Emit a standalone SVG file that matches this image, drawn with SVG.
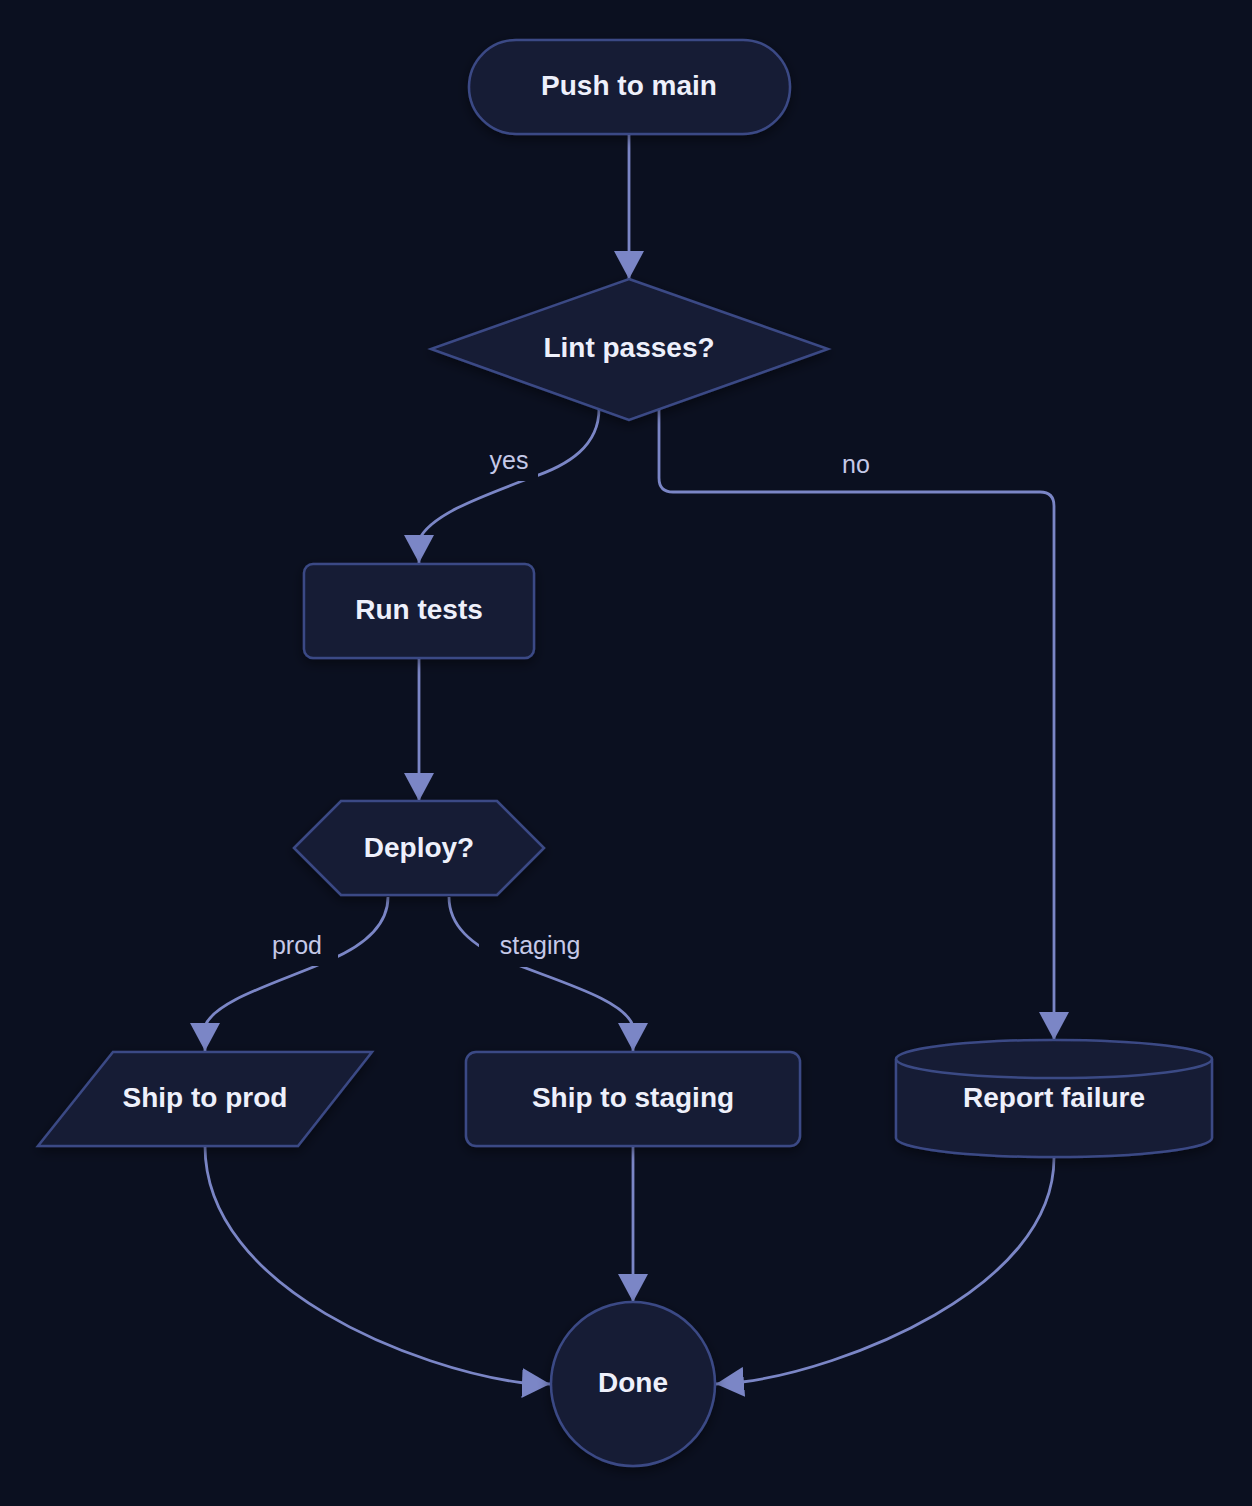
<svg xmlns="http://www.w3.org/2000/svg" width="1252" height="1506" viewBox="0 0 1252 1506">
<style>
.node{fill:#171b36;stroke:#3b4a85;stroke-width:2.5;filter:url(#sh)}
.nt{font-family:"Liberation Sans",Arial,sans-serif;font-weight:bold;font-size:28px;fill:#eef0fb;text-anchor:middle;dominant-baseline:central}
.edge{fill:none;stroke:#7b86c6;stroke-width:2.8;marker-end:url(#arr)}
.lbg{fill:#0b1020}
.lt{font-family:"Liberation Sans",Arial,sans-serif;font-size:25px;fill:#c5c9e8;text-anchor:middle;dominant-baseline:central}
</style>
<defs>
<filter id="sh" x="-20%" y="-20%" width="140%" height="150%">
<feDropShadow dx="0" dy="4" stdDeviation="6" flood-color="#000" flood-opacity="0.45"/>
</filter>
<marker id="arr" markerUnits="userSpaceOnUse" viewBox="0 0 28 30" markerWidth="28" markerHeight="30" refX="28" refY="15" orient="auto">
<path d="M0,0 L28,15 L0,30 z" fill="#7b86c6"/>
</marker>
</defs>
<rect width="1252" height="1506" fill="#0b1020"/>
<g id="connectors">
<path class="edge" d="M629,134 L629,279"/>
<path class="edge" d="M599,409 C599,445 570,465 530,478 C480,497 430,515 419,540 L419,563"/>
<path class="edge" d="M659,409 L659,478 Q659,492 673,492 L1040,492 Q1054,492 1054,506 L1054,1040"/>
<path class="edge" d="M419,658 L419,801"/>
<path class="edge" d="M388,897 C388,925 365,945 330,960 C280,982 215,1000 205,1026 L205,1051"/>
<path class="edge" d="M449,897 C449,925 470,945 510,962 C560,982 625,1000 633,1026 L633,1051"/>
<path class="edge" d="M633,1146 L633,1302"/>
<path class="edge" d="M205,1146 C205,1290 420,1370 524,1383 L550,1384"/>
<path class="edge" d="M1054,1158 C1054,1290 840,1370 742,1382 L716,1384"/>
<g id="label-yes"><rect class="lbg" x="480" y="441" width="58" height="40"/><text class="lt" x="509" y="460">yes</text></g>
<g id="label-no"><rect class="lbg" x="830" y="444" width="52" height="40"/><text class="lt" x="856" y="464">no</text></g>
<g id="label-prod"><rect class="lbg" x="262" y="925" width="76" height="41"/><text class="lt" x="297" y="945">prod</text></g>
<g id="label-staging"><rect class="lbg" x="479" y="927" width="118" height="40"/><text class="lt" x="540" y="945">staging</text></g>
</g>
<g id="push"><rect class="node" x="469" y="40" width="321" height="94" rx="47"/><text class="nt" x="629" y="85">Push to main</text></g>
<g id="lint"><polygon class="node" points="629,279 828,349 629,420 431,349"/><text class="nt" x="629" y="347">Lint passes?</text></g>
<g id="tests"><rect class="node" x="304" y="564" width="230" height="94" rx="9"/><text class="nt" x="419" y="609">Run tests</text></g>
<g id="deploy"><polygon class="node" points="294,848 341,801 497,801 544,848 497,895 341,895"/><text class="nt" x="419" y="847">Deploy?</text></g>
<g id="prod"><polygon class="node" points="113,1052 372,1052 298,1146 38,1146"/><text class="nt" x="205" y="1097">Ship to prod</text></g>
<g id="staging"><rect class="node" x="466" y="1052" width="334" height="94" rx="10"/><text class="nt" x="633" y="1097">Ship to staging</text></g>
<g id="report"><path class="node" d="M896,1059 A158,19 0 0 1 1212,1059 L1212,1138 A158,19 0 0 1 896,1138 Z"/><path d="M896,1059 A158,19 0 0 0 1212,1059" fill="none" stroke="#3b4a85" stroke-width="2.5"/><text class="nt" x="1054" y="1097">Report failure</text></g>
<g id="done"><circle class="node" cx="633" cy="1384" r="82"/><text class="nt" x="633" y="1382">Done</text></g>
</svg>
